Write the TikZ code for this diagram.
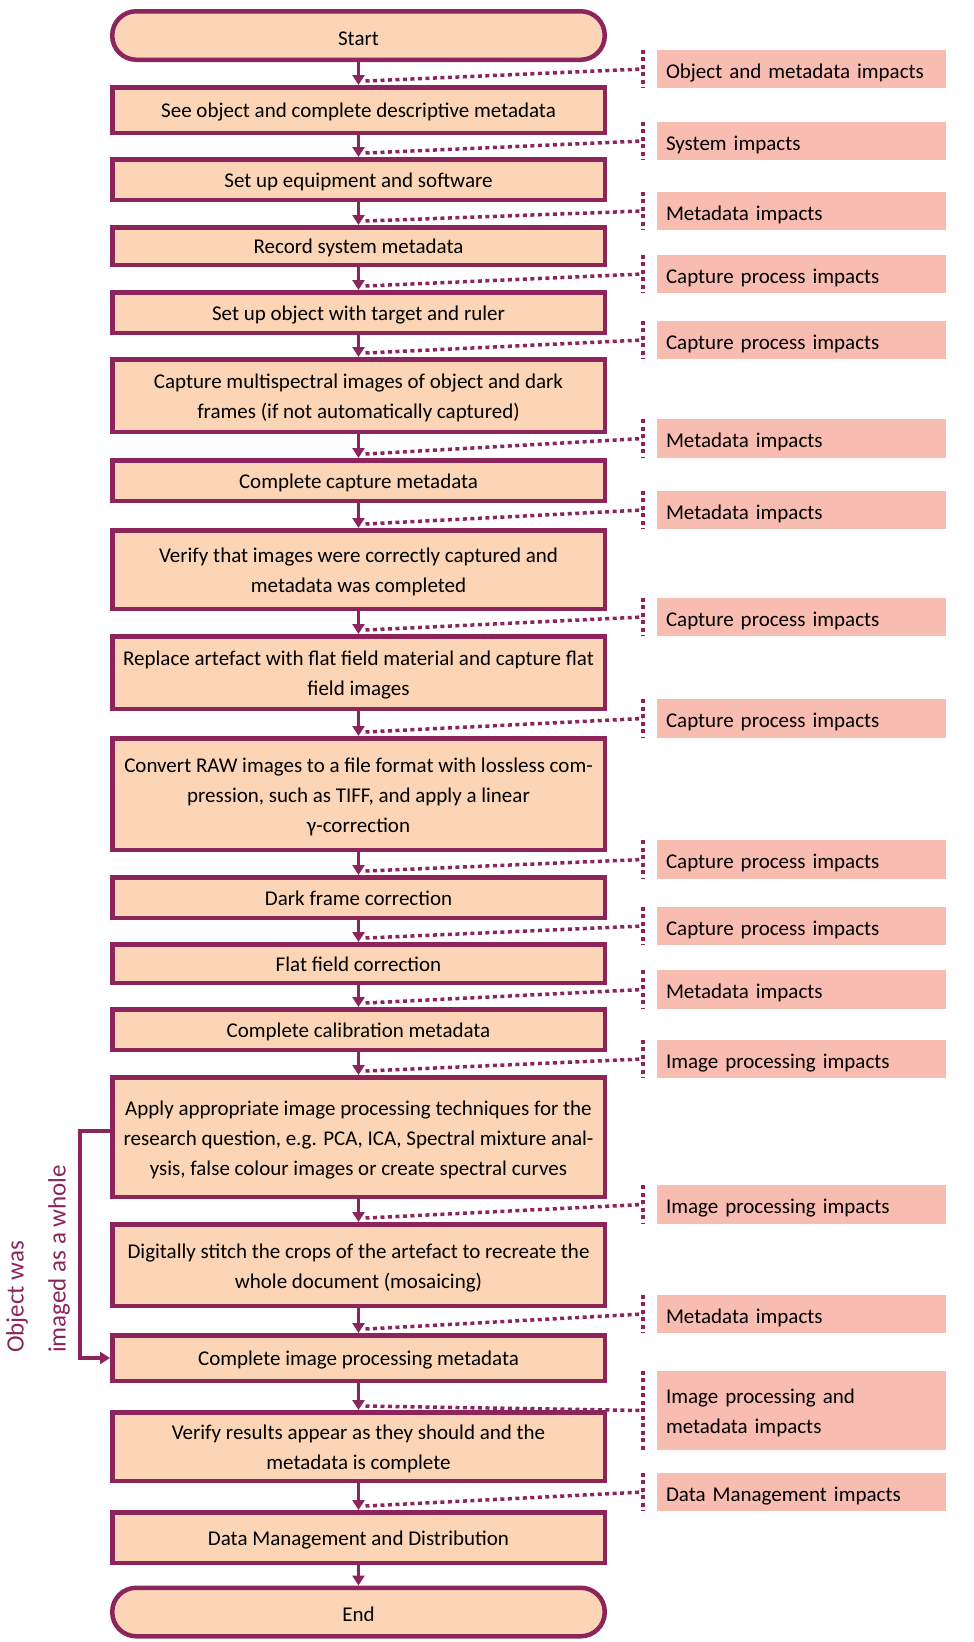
\documentclass[tikz,border=0pt]{standalone}
\usepackage{fontspec}
\setmainfont{Carlito}
\usetikzlibrary{arrows.meta,calc}
\definecolor{boxc}{RGB}{139,37,92}
\definecolor{peach}{RGB}{251,213,181}
\definecolor{pinkc}{RGB}{248,188,176}
\newcommand{\firstline}{\rule{0pt}{20pt}}
\begin{document}
\begin{tikzpicture}[x=1pt,y=-1pt,
  box/.style={draw=boxc, line width=4.5pt, fill=peach, minimum width=492.5pt, inner sep=0pt, align=center, font=\fontsize{21}{30}\selectfont},
  onebox/.style={box, text height=20pt, text depth=4.5pt},
  term/.style={box, text height=24pt, text depth=4.5pt, rounded corners=24pt},
  impact/.style={fill=pinkc, minimum height=38.5pt, text width=271pt, inner xsep=9pt, inner ysep=0pt, align=left, font=\fontsize{21}{30}\selectfont},
  oneimpact/.style={impact, text height=23pt, text depth=4.5pt},
  flow/.style={draw=boxc, line width=3.5pt, -{Triangle[length=10pt,width=12pt]}},
  dots/.style={draw=boxc, line width=3.5pt, dash pattern=on 4pt off 3.5pt}
]
\useasboundingbox (0,0) rectangle (974,1642);
\fill[white] (0,0) rectangle (974,1642);

% main flow boxes
\node[term, minimum height=48.5pt] (start) at (358.5,35.5) {Start};
\node[onebox, minimum height=45.5pt] (b1) at (358.5,110) {See object and complete descriptive metadata};
\node[onebox, minimum height=40.5pt] (b2) at (358.5,179.5) {Set up equipment and software};
\node[onebox, minimum height=37.5pt] (b3) at (358.5,246) {Record system metadata};
\node[onebox, minimum height=40.5pt] (b4) at (358.5,312.5) {Set up object with target and ruler};
\node[box, minimum height=72.5pt] (b5) at (358.5,395.5) {\firstline Capture multispectral images of object and dark\\frames (if not automatically captured)};
\node[onebox, minimum height=40.5pt] (b6) at (358.5,480.5) {Complete capture metadata};
\node[box, minimum height=78.5pt] (b7) at (358.5,569.5) {\firstline Verify that images were correctly captured and\\metadata was completed};
\node[box, minimum height=72.5pt] (b8) at (358.5,672.5) {\firstline Replace artefact with flat field material and capture flat\\field images};
\node[box, minimum height=111.5pt] (b9) at (358.5,794) {\firstline Convert RAW images to a file format with lossless com-\\pression, such as TIFF, and apply a linear\\γ-correction};
\node[onebox, minimum height=40.5pt] (b10) at (358.5,897.5) {Dark frame correction};
\node[onebox, minimum height=38.5pt] (b11) at (358.5,963.5) {Flat field correction};
\node[onebox, minimum height=40.5pt] (b12) at (358.5,1029.5) {Complete calibration metadata};
\node[box, minimum height=119.5pt] (b13) at (358.5,1137) {\firstline Apply appropriate image processing techniques for the\\research question, e.g. PCA, ICA, Spectral mixture anal-\\ysis, false colour images or create spectral curves};
\node[box, minimum height=81.5pt] (b14) at (358.5,1265) {\firstline Digitally stitch the crops of the artefact to recreate the\\whole document (mosaicing)};
\node[onebox, minimum height=45.5pt] (b15) at (358.5,1358) {Complete image processing metadata};
\node[box, minimum height=68.5pt] (b16) at (358.5,1446.5) {\firstline Verify results appear as they should and the\\metadata is complete};
\node[onebox, minimum height=50.5pt] (b17) at (358.5,1537.5) {Data Management and Distribution};
\node[term, minimum height=48.5pt] (end) at (358.5,1612) {End};

% impact labels
\node[oneimpact] (l1) at (801.5,69) {Object and metadata impacts};
\node[oneimpact] (l2) at (801.5,141) {System impacts};
\node[oneimpact] (l3) at (801.5,211) {Metadata impacts};
\node[oneimpact] (l4) at (801.5,274) {Capture process impacts};
\node[oneimpact] (l5) at (801.5,340) {Capture process impacts};
\node[oneimpact] (l6) at (801.5,438.5) {Metadata impacts};
\node[oneimpact] (l7) at (801.5,510) {Metadata impacts};
\node[oneimpact] (l8) at (801.5,617) {Capture process impacts};
\node[oneimpact] (l9) at (801.5,718.5) {Capture process impacts};
\node[oneimpact] (l10) at (801.5,859.5) {Capture process impacts};
\node[oneimpact] (l11) at (801.5,926) {Capture process impacts};
\node[oneimpact] (l12) at (801.5,989.5) {Metadata impacts};
\node[oneimpact] (l13) at (801.5,1059) {Image processing impacts};
\node[oneimpact] (l14) at (801.5,1204.5) {Image processing impacts};
\node[oneimpact] (l15) at (801.5,1314) {Metadata impacts};
\node[impact, minimum height=79pt] (l16) at (801.5,1410.5) {\firstline Image processing and\\metadata impacts};
\node[oneimpact] (l17) at (801.5,1492) {Data Management impacts};

% flow arrows
\foreach \a/\b in {start/b1,b1/b2,b2/b3,b3/b4,b4/b5,b5/b6,b6/b7,b7/b8,b8/b9,b9/b10,b10/b11,b11/b12,b12/b13,b13/b14,b14/b15,b15/b16,b16/b17,b17/end}
  \draw[flow] (\a.south) -- (\b.north);

% dotted impact connectors
\foreach \i in {1,...,17} {
  \draw[dots] ($(b\i.north)+(7,-4)$) -- ($(l\i.west)+(-14,0)$);
  \draw[dots] ($(l\i.north west)+(-14,0)$) -- ($(l\i.south west)+(-14,0)$);
}

% bypass loop
\coordinate (loopstart) at ($(b13.west)+(0,-6)$);
\draw[flow] (loopstart) -- ++(-30,0) |- (b15.west);
\node[rotate=90, anchor=west, align=left, inner sep=0pt, text=boxc, font=\fontsize{25}{42}\selectfont] (looplabel) at (38,1353) {Object was\\imaged as a whole};
\end{tikzpicture}
\end{document}
